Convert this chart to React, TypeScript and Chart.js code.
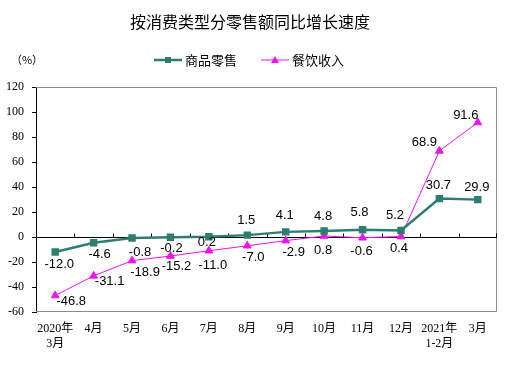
import React, { useEffect, useRef } from "react";
import { Chart, registerables } from "chart.js";

Chart.register(...registerables);

const categories: (string | string[])[] = [
  ["2020年", "3月"], "4月", "5月", "6月", "7月", "8月", "9月", "10月", "11月", "12月", ["2021年", "1-2月"], "3月",
];
const retailGoods = [-12.0, -4.6, -0.8, -0.2, 0.2, 1.5, 4.1, 4.8, 5.8, 5.2, 30.7, 29.9];
const catering = [-46.8, -31.1, -18.9, -15.2, -11.0, -7.0, -2.9, 0.8, -0.6, 0.4, 68.9, 91.6];
const seriesNames = ["商品零售", "餐饮收入"];
const yTicks = [-60, -40, -20, 0, 20, 40, 60, 80, 100, 120];
const titleText = "按消费类型分零售额同比增长速度";
const unitText = "（%）";

// label placement (style only): [dx, dy] relative to each point
const greenLabelOffsets: [number, number][] = [
  [4, 12], [6, 12], [8, 14], [1, 11], [-2, 6], [-1, -15], [-1, -16], [-1, -15], [-3, -17], [-6, -15], [-1, -13], [-1, -12],
];
const magentaLabelOffsets: [number, number][] = [
  [16, 6], [16, 6], [13, 12], [6, 10], [4, 15], [6, 12], [8, 12], [-1, 14], [-1, 14], [-2, 12], [-15, -8], [-12, -7],
];

const GREEN = "#2E7D72";
const MAGENTA = "#F010F0";

const decorPlugin = {
  id: "decor",
  beforeDatasetsDraw(chart: any) {
    const { ctx, chartArea } = chart;
    const x = chart.scales.x;
    const y = chart.scales.y;
    ctx.save();
    // gray frame top/right/bottom
    ctx.strokeStyle = "#8c8c8c";
    ctx.lineWidth = 1;
    ctx.beginPath();
    ctx.moveTo(chartArea.left, chartArea.top + 0.5);
    ctx.lineTo(chartArea.right - 0.5, chartArea.top + 0.5);
    ctx.lineTo(chartArea.right - 0.5, chartArea.bottom - 0.5);
    ctx.lineTo(chartArea.left, chartArea.bottom - 0.5);
    ctx.stroke();
    // zero line
    const y0 = Math.round(y.getPixelForValue(0)) + 0.5;
    ctx.strokeStyle = "#000";
    ctx.beginPath();
    ctx.moveTo(chartArea.left, y0);
    ctx.lineTo(chartArea.right, y0);
    ctx.stroke();
    // tick marks on zero line between categories
    const n = categories.length;
    ctx.beginPath();
    for (let i = 1; i <= n; i++) {
      const px = Math.round((x.getPixelForValue(i - 1) + (i < n ? x.getPixelForValue(i) : chartArea.right * 2 - x.getPixelForValue(i - 1)) ) / 2) + 0.5;
      const bx = i < n ? px : chartArea.right - 0.5;
      ctx.moveTo(bx, y0);
      ctx.lineTo(bx, y0 - 4);
    }
    ctx.stroke();
    ctx.restore();
  },
  afterDatasetsDraw(chart: any) {
    const { ctx } = chart;
    ctx.save();
    ctx.font = '13px "Liberation Sans", Arial, sans-serif';
    ctx.fillStyle = "#000";
    ctx.textAlign = "center";
    ctx.textBaseline = "middle";
    const sets: [number[], [number, number][]][] = [
      [retailGoods, greenLabelOffsets],
      [catering, magentaLabelOffsets],
    ];
    sets.forEach(([vals, offs], di) => {
      const meta = chart.getDatasetMeta(di);
      meta.data.forEach((pt: any, i: number) => {
        ctx.fillText(vals[i].toFixed(1), pt.x + offs[i][0], pt.y + offs[i][1]);
      });
    });
    ctx.restore();
  },
  afterDraw(chart: any) {
    const { ctx } = chart;
    ctx.save();
    ctx.fillStyle = "#000";
    ctx.textBaseline = "middle";
    ctx.textAlign = "center";
    ctx.font = '16px "Noto Sans CJK SC", sans-serif';
    ctx.fillText(titleText, 250, 22);
    ctx.font = '11px "Noto Sans CJK SC", sans-serif';
    ctx.fillText(unitText, 27, 60);
    // legend
    const items = [
      { name: seriesNames[0], color: GREEN, x: 154, lw: 2.5, style: "rect" },
      { name: seriesNames[1], color: MAGENTA, x: 261, lw: 1, style: "tri" },
    ];
    const ly = 60;
    items.forEach((it) => {
      ctx.strokeStyle = it.color;
      ctx.fillStyle = it.color;
      ctx.lineWidth = it.lw;
      ctx.beginPath();
      ctx.moveTo(it.x, ly);
      ctx.lineTo(it.x + 28, ly);
      ctx.stroke();
      const cx = it.x + 14;
      if (it.style === "rect") {
        ctx.fillRect(cx - 3, ly - 3, 6, 6);
      } else {
        ctx.beginPath();
        ctx.moveTo(cx, ly - 4);
        ctx.lineTo(cx + 4, ly + 3);
        ctx.lineTo(cx - 4, ly + 3);
        ctx.closePath();
        ctx.fill();
      }
      ctx.fillStyle = "#000";
      ctx.textAlign = "left";
      ctx.font = '13px "Noto Sans CJK SC", sans-serif';
      ctx.fillText(it.name, it.x + 31, ly);
    });
    ctx.restore();
  },
};

export default function App() {
  const ref = useRef<HTMLCanvasElement>(null);
  useEffect(() => {
    document.body.style.margin = "0";
    const canvas = ref.current!;
    const chart = new Chart(canvas, {
      type: "line",
      data: {
        labels: categories,
        datasets: [
          {
            label: seriesNames[0],
            data: retailGoods,
            borderColor: GREEN,
            backgroundColor: GREEN,
            borderWidth: 2.5,
            pointStyle: "rect",
            pointRadius: 3.5,
            pointHoverRadius: 3.5,
            tension: 0,
          },
          {
            label: seriesNames[1],
            data: catering,
            borderColor: MAGENTA,
            backgroundColor: MAGENTA,
            borderWidth: 1,
            pointStyle: "triangle",
            pointRadius: 4.5,
            pointHoverRadius: 4.5,
            tension: 0,
          },
        ],
      },
      options: {
        animation: false,
        responsive: false,
        maintainAspectRatio: false,
        events: [],
        layout: { padding: { top: 87, right: 13, left: 0, bottom: 0 } },
        plugins: {
          legend: { display: false },
          title: { display: false },
          tooltip: { enabled: false },
        },
        scales: {
          x: {
            type: "category",
            offset: true,
            grid: { display: false, drawTicks: false },
            border: { display: false },
            ticks: {
              color: "#000",
              font: { family: '"Liberation Serif", "Times New Roman", "Noto Sans CJK SC", serif', size: 12 },
              padding: 10,
              maxRotation: 0,
              autoSkip: false,
            },
            afterFit(scale: any) {
              scale.height = 53;
            },
          },
          y: {
            min: -60,
            max: 120,
            afterBuildTicks(scale: any) {
              scale.ticks = yTicks.map((v) => ({ value: v }));
            },
            grid: { drawOnChartArea: false, drawTicks: true, tickLength: 4, color: "#000" },
            border: { display: true, color: "#000", width: 1 },
            ticks: {
              color: "#000",
              padding: 8,
              font: { family: '"Liberation Serif", "Times New Roman", serif', size: 12 },
            },
            afterFit(scale: any) {
              scale.width = 36;
            },
          },
        },
      },
      plugins: [decorPlugin],
    });
    return () => chart.destroy();
  }, []);
  return (
    <div style={{ width: 510, height: 365 }}>
      <canvas ref={ref} width={510} height={365} style={{ width: 510, height: 365, display: "block" }} />
    </div>
  );
}
